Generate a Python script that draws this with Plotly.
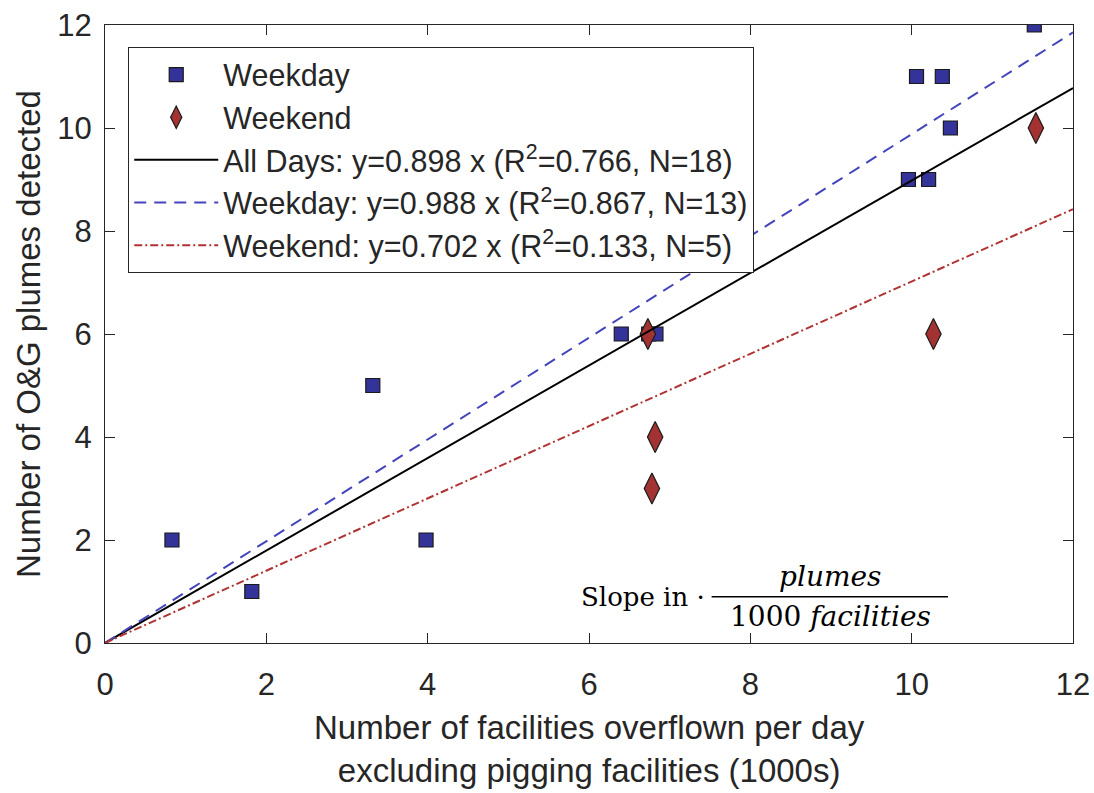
import plotly.graph_objects as go

# Data
weekday_x = [0.83, 1.82, 3.32, 3.98, 6.40, 6.74, 6.83, 9.96, 10.21, 10.06, 10.38, 10.48, 11.52]
weekday_y = [2, 1, 5, 2, 6, 6, 6, 9, 9, 11, 11, 10, 12]
weekend_x = [6.73, 6.82, 6.78, 10.27, 11.54]
weekend_y = [6, 4, 3, 6, 10]

fit_x = [0, 12]
slope_all = 0.898
slope_weekday = 0.988
slope_weekend = 0.702

x_ticks = [0, 2, 4, 6, 8, 10, 12]
y_ticks = [0, 2, 4, 6, 8, 10, 12]

FONT = "Liberation Sans, Arial, sans-serif"
SERIF = "DejaVu Serif, Liberation Serif, serif"
TXT = "#262626"

fig = go.Figure()

fig.add_trace(go.Scatter(
    x=weekday_x, y=weekday_y, mode="markers", name="Weekday",
    marker=dict(symbol="square", size=14, color="#333399",
                line=dict(color="#1a1a1a", width=1.2))))
fig.add_trace(go.Scatter(
    x=weekend_x, y=weekend_y, mode="markers", name="Weekend",
    marker=dict(symbol="diamond-tall", size=22, color="#A33333",
                line=dict(color="#1a1a1a", width=1.2))))
fig.add_trace(go.Scatter(
    x=fit_x, y=[slope_all * v for v in fit_x], mode="lines",
    name="All Days: y=0.898 x (R<sup>2</sup>=0.766, N=18)",
    line=dict(color="black", width=2)))
fig.add_trace(go.Scatter(
    x=fit_x, y=[slope_weekday * v for v in fit_x], mode="lines",
    name="Weekday: y=0.988 x (R<sup>2</sup>=0.867, N=13)",
    line=dict(color="#4444BB", width=2, dash="12px,8px")))
fig.add_trace(go.Scatter(
    x=fit_x, y=[slope_weekend * v for v in fit_x], mode="lines",
    name="Weekend: y=0.702 x (R<sup>2</sup>=0.133, N=5)",
    line=dict(color="#B03333", width=2, dash="8px,3px,2px,3px")))

axis_common = dict(
    showgrid=False, zeroline=False, showline=True, linecolor=TXT, linewidth=1,
    mirror="ticks", ticks="inside", ticklen=10, tickcolor=TXT, tickwidth=1,
    tickfont=dict(family=FONT, size=31, color=TXT), automargin=False,
)

fig.update_layout(
    width=1094, height=793,
    margin=dict(l=105, r=21, t=25, b=150),
    paper_bgcolor="white", plot_bgcolor="white",
    xaxis=dict(range=[0, 12], tickvals=x_ticks, ticklabelstandoff=14, **axis_common),
    yaxis=dict(range=[0, 12], tickvals=y_ticks, ticklabelstandoff=6, **axis_common),
    legend=dict(x=0.024, y=0.964, xanchor="left", yanchor="top",
                bgcolor="white", bordercolor=TXT, borderwidth=1,
                font=dict(family=FONT, size=30.5, color=TXT),
                itemwidth=84, tracegroupgap=0),
    showlegend=True,
)

# Axis titles
fig.add_annotation(xref="paper", yref="paper", x=0.5, y=0, yshift=-106,
                   text="Number of facilities overflown per day<br>excluding pigging facilities (1000s)",
                   showarrow=False, xanchor="center", yanchor="middle",
                   font=dict(family=FONT, size=33, color=TXT))
fig.add_annotation(xref="paper", yref="paper", x=0, y=0.5, xshift=-77,
                   text="Number of O&G plumes detected", textangle=-90,
                   showarrow=False, xanchor="center", yanchor="middle",
                   font=dict(family=FONT, size=33, color=TXT))

# Slope-unit annotation (fraction)
fig.add_annotation(x=7.46, y=0.90, xref="x", yref="y", text="Slope in ·",
                   showarrow=False, xanchor="right", yanchor="middle",
                   font=dict(family=SERIF, size=26, color="black"))
fig.add_annotation(x=8.99, y=0.93, xref="x", yref="y", text="<i>plumes</i>",
                   showarrow=False, xanchor="center", yanchor="bottom",
                   font=dict(family=SERIF, size=28, color="black"))
fig.add_annotation(x=8.99, y=0.87, xref="x", yref="y", text="1000 <i>facilities</i>",
                   showarrow=False, xanchor="center", yanchor="top",
                   font=dict(family=SERIF, size=28, color="black"))
fig.add_shape(type="line", xref="x", yref="y", x0=7.52, x1=10.45, y0=0.90, y1=0.90,
              line=dict(color="black", width=1.5))

fig.write_html("out.html", config={"displayModeBar": False},
               post_script="document.body.style.margin='0';document.body.style.padding='0';")
